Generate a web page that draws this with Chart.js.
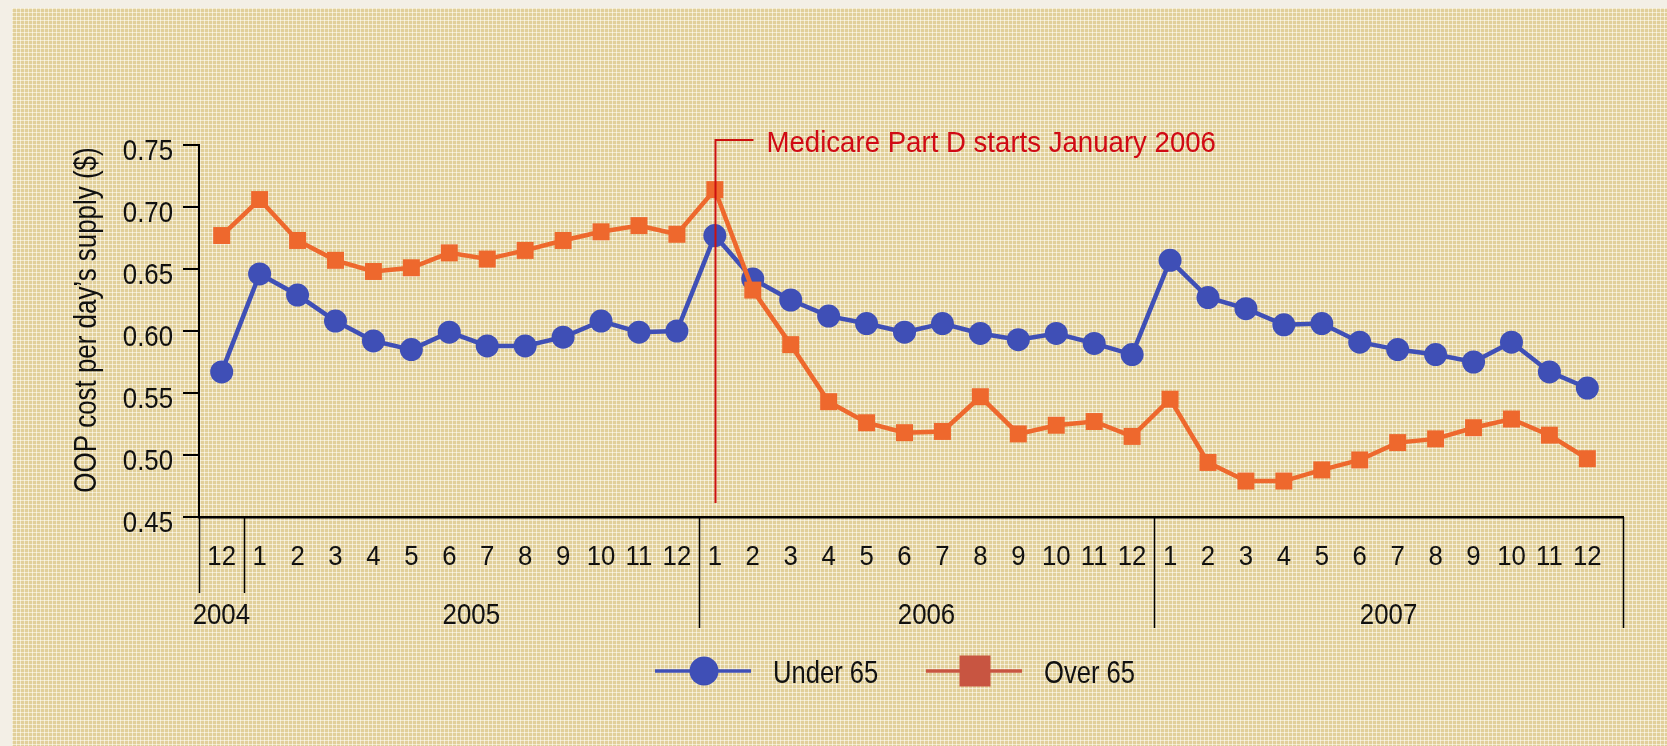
<!DOCTYPE html>
<html>
<head>
<meta charset="utf-8">
<script src="https://cdn.jsdelivr.net/npm/chart.js@4.4.1/dist/chart.umd.min.js"></script>
<style>
html,body{margin:0;padding:0;background:#f3efe6;overflow:hidden;}
canvas{display:block;}
</style>
</head>
<body>
<canvas id="c" width="1667" height="746"></canvas>
<script>
// ---- data ----
const monthLabels = ['12','1','2','3','4','5','6','7','8','9','10','11','12',
                     '1','2','3','4','5','6','7','8','9','10','11','12',
                     '1','2','3','4','5','6','7','8','9','10','11','12'];
const yearLabels = ['2004','2005','2006','2007'];
const yearStarts = [0, 1, 13, 25];
const under65 = [0.567,0.646,0.629,0.608,0.592,0.585,0.599,0.588,0.588,0.595,0.608,0.599,0.600,
                 0.677,0.642,0.625,0.612,0.606,0.599,0.606,0.598,0.593,0.598,0.590,0.581,
                 0.657,0.627,0.618,0.605,0.606,0.591,0.585,0.581,0.575,0.591,0.567,0.554];
const over65  = [0.677,0.706,0.673,0.657,0.648,0.651,0.663,0.658,0.665,0.673,0.680,0.685,0.678,
                 0.714,0.633,0.589,0.543,0.526,0.518,0.519,0.547,0.517,0.524,0.527,0.515,
                 0.545,0.494,0.479,0.479,0.488,0.496,0.510,0.513,0.522,0.529,0.516,0.497];
const yTicks = [0.45,0.50,0.55,0.60,0.65,0.70,0.75];
const seriesNames = ['Under 65','Over 65'];
const yTitle = 'OOP cost per day\u2019s supply ($)';
const annotationText = 'Medicare Part D starts January 2006';
const annotationIndex = 13;

// ---- styles ----
const FONT = "'Liberation Sans', Arial, sans-serif";
const BLUE = '#3f4fb6';
const ORANGE = '#ee682d';
const LEG_ORANGE = '#c85541';
const RED = '#cc1010';
const TXT = '#111111';

// condensed text: natural width squeezed with fillText maxWidth
function ctext(ctx, str, x, y, size, factor, align, color) {
  ctx.font = size + 'px ' + FONT;
  ctx.textAlign = align;
  ctx.textBaseline = 'alphabetic';
  ctx.fillStyle = color;
  const w = ctx.measureText(str).width;
  ctx.fillText(str, x, y, w * factor);
}

// background pattern
const tile = document.createElement('canvas');
tile.width = 4; tile.height = 4;
(function(){
  const t = tile.getContext('2d');
  t.fillStyle = 'rgb(225,207,154)'; t.fillRect(0,0,4,4);
  t.fillStyle = 'rgb(242,233,205)'; t.fillRect(0,0,4,1); t.fillRect(0,0,1,4);
  t.fillStyle = 'rgb(250,246,232)'; t.fillRect(0,0,1,1);
})();

const decor = {
  id: 'decor',
  beforeDraw(chart) {
    const ctx = chart.ctx;
    ctx.save();
    ctx.fillStyle = '#f3efe6';
    ctx.fillRect(0, 0, chart.width, chart.height);
    ctx.fillStyle = ctx.createPattern(tile, 'repeat');
    ctx.fillRect(12, 8, chart.width - 12, chart.height - 8);
    ctx.restore();
  },
  afterDatasetsDraw(chart) {
    const ctx = chart.ctx, xs = chart.scales.x, ca = chart.chartArea;
    const x0 = Math.round(xs.getPixelForValue(annotationIndex)) + 0.5;
    const yTop = ca.top - 5;
    ctx.save();
    ctx.strokeStyle = RED;
    ctx.lineWidth = 2;
    ctx.beginPath();
    ctx.moveTo(x0, ca.bottom - 14);
    ctx.lineTo(x0, yTop);
    ctx.lineTo(x0 + 38, yTop);
    ctx.stroke();
    ctext(ctx, annotationText, x0 + 51, ca.top + 7, 30, 0.92, 'left', '#d00a14');
    ctx.restore();
  },
  afterDraw(chart) {
    const ctx = chart.ctx, xs = chart.scales.x, ys = chart.scales.y, ca = chart.chartArea;
    ctx.save();
    // y tick labels
    ys.ticks.forEach(t => {
      ctext(ctx, t.value.toFixed(2), ca.left - 26, ys.getPixelForValue(t.value) + 14.5, 30, 0.86, 'right', TXT);
    });
    // x tick labels (months)
    xs.ticks.forEach(t => {
      ctext(ctx, monthLabels[t.value], xs.getPixelForValue(t.value), ca.bottom + 48, 28, 0.92, 'center', TXT);
    });
    // y title
    ctx.save();
    ctx.translate(96, (ca.top + ca.bottom) / 2 - 11);
    ctx.rotate(-Math.PI / 2);
    ctext(ctx, yTitle, 0, 0, 32, 0.81, 'center', TXT);
    ctx.restore();
    // axis extension + year dividers
    ctx.strokeStyle = '#000';
    ctx.lineWidth = 1.5;
    const bounds = yearStarts.map((s, k) => k === 0 ? ca.left : xs.getPixelForValue(s - 0.42));
    bounds.push(ca.right);
    bounds.forEach((bx, k) => {
      const len = k <= 1 ? 76 : 111;
      const xx = Math.round(bx) + 0.5;
      ctx.beginPath();
      ctx.moveTo(xx, ca.bottom);
      ctx.lineTo(xx, ca.bottom + len);
      ctx.stroke();
    });
    // year labels
    yearLabels.forEach((lab, k) => {
      const cx = (bounds[k] + bounds[k + 1]) / 2;
      ctext(ctx, lab, cx, ca.bottom + 107, 30, 0.86, 'center', TXT);
    });
    // legend
    const ly = ca.bottom + 154;
    const items = [
      {x: 655, color: BLUE, style: 'circle'},
      {x: 926, color: LEG_ORANGE, style: 'rect'}
    ];
    items.forEach((it, i) => {
      ctx.strokeStyle = it.color;
      ctx.fillStyle = it.color;
      ctx.lineWidth = 3.5;
      ctx.beginPath();
      ctx.moveTo(it.x, ly);
      ctx.lineTo(it.x + 96, ly);
      ctx.stroke();
      const cx = it.x + 49;
      ctx.beginPath();
      if (it.style === 'circle') {
        ctx.arc(cx, ly, 14.5, 0, Math.PI * 2);
      } else {
        ctx.rect(cx - 15.5, ly - 15.5, 31, 31);
      }
      ctx.fill();
      ctext(ctx, seriesNames[i], it.x + 118, ly + 12, 32, 0.80, 'left', TXT);
    });
    ctx.restore();
  }
};

const pts = arr => arr.map((v, i) => ({x: i, y: v}));

new Chart(document.getElementById('c'), {
  type: 'line',
  data: {
    datasets: [
      {label: seriesNames[0], data: pts(under65), borderColor: BLUE, backgroundColor: BLUE,
       borderWidth: 4.5, pointStyle: 'circle', pointRadius: 11.5, pointBorderWidth: 0,
       pointBackgroundColor: BLUE, tension: 0, order: 2},
      {label: seriesNames[1], data: pts(over65), borderColor: ORANGE, backgroundColor: ORANGE,
       borderWidth: 4.5, pointStyle: 'rect', pointRadius: 12, pointBorderWidth: 0,
       pointBackgroundColor: ORANGE, tension: 0, order: 1}
    ]
  },
  options: {
    responsive: false,
    animation: false,
    devicePixelRatio: 1,
    layout: {padding: {left: 12, top: 145, right: 44, bottom: 109}},
    plugins: {legend: {display: false}, tooltip: {enabled: false}},
    scales: {
      x: {
        type: 'linear', min: -0.598, max: 36.94,
        afterBuildTicks: s => { s.ticks = monthLabels.map((_, i) => ({value: i})); },
        afterFit: s => { s.height = 120; },
        ticks: {display: false, autoSkip: false, maxRotation: 0, minRotation: 0},
        grid: {display: false, drawTicks: false},
        border: {display: true, color: '#000', width: 2.5}
      },
      y: {
        min: 0.45, max: 0.75,
        afterBuildTicks: s => { s.ticks = yTicks.map(v => ({value: v})); },
        afterFit: s => { s.width = 187; },
        ticks: {display: false},
        grid: {drawOnChartArea: false, drawTicks: true, tickLength: 16, color: '#000', lineWidth: 2},
        border: {display: true, color: '#000', width: 2}
      }
    }
  },
  plugins: [decor]
});
</script>
</body>
</html>
